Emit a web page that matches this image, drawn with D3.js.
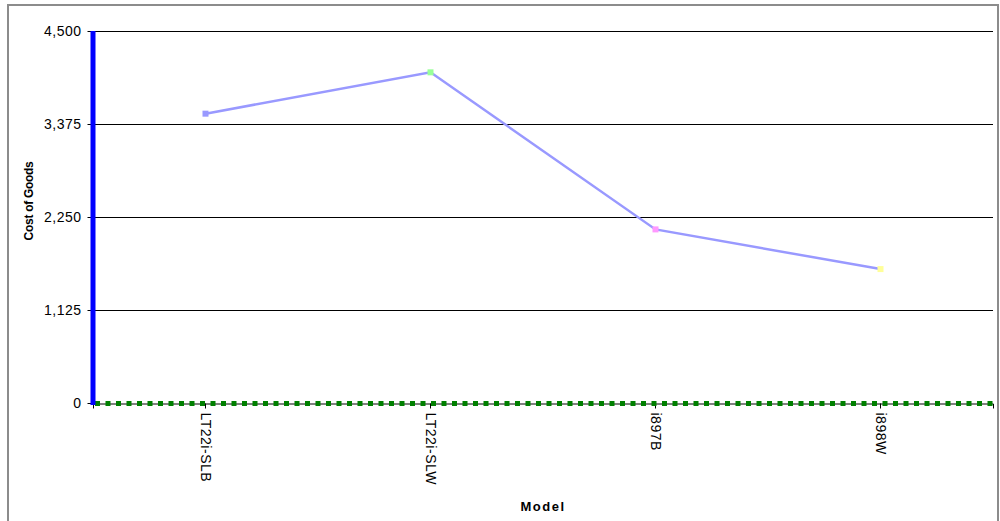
<!DOCTYPE html>
<html><head><meta charset="utf-8">
<script src="https://cdn.jsdelivr.net/npm/d3@7"></script>
<style>body{margin:0;background:#fff}svg{display:block}</style>
</head><body>
<script>
const categories = ["LT22i-SLB", "LT22i-SLW", "i897B", "i898W"];
const values = [3500, 4000, 2100, 1620];
const markerColors = ["#9999ff", "#99ff99", "#ff99ff", "#ffff99"];
const yTicks = [0, 1125, 2250, 3375, 4500];

const W = 1000, H = 521;
const FONT = "Liberation Sans, Arial, sans-serif";
const svg = d3.select("body").append("svg").attr("width", W).attr("height", H);

// outer frame
svg.append("rect").attr("x", 8).attr("y", 5).attr("width", 990).attr("height", 530)
  .attr("fill", "none").attr("stroke", "#8c8c8c").attr("stroke-width", 2);

const pLeft = 93, pRight = 993, pTop = 31, pBottom = 403;
const x = d3.scaleBand().domain(categories).range([pLeft, pRight]);
const y = d3.scaleLinear().domain([0, 4500]).range([pBottom, pTop]);

// gridlines
svg.append("g").selectAll("line").data(yTicks.filter(d => d > 0)).join("line")
  .attr("x1", pLeft).attr("x2", pRight)
  .attr("y1", d => Math.round(y(d)) + 0.5).attr("y2", d => Math.round(y(d)) + 0.5)
  .attr("stroke", "#000").attr("stroke-width", 1);

// y axis
const yAxis = d3.axisLeft(y).tickValues(yTicks).tickSize(5).tickPadding(6)
  .tickFormat(d3.format(","));
const gy = svg.append("g").attr("transform", `translate(${pLeft - 0.5},0)`).call(yAxis);
gy.select(".domain").remove();
gy.selectAll(".tick line").attr("stroke", "#000");
gy.selectAll(".tick text").attr("font-family", FONT)
  .attr("font-size", 14).attr("letter-spacing", 0.5).attr("fill", "#000");

// x axis
const xAxis = d3.axisBottom(x).tickSize(5).tickPadding(4);
const gx = svg.append("g").attr("transform", `translate(0,${pBottom + 0.5})`).call(xAxis);
gx.select(".domain").attr("stroke", "#000");
gx.selectAll(".tick line").attr("stroke", "#000");
gx.selectAll(".tick text")
  .attr("font-family", FONT).attr("font-size", 14).attr("letter-spacing", 0.5).attr("fill", "#000")
  .attr("transform", "rotate(90)")
  .attr("text-anchor", "start").attr("dy", "0.35em").attr("x", 9).attr("y", 0);

// green dotted x axis line
svg.append("line").attr("x1", pLeft + 2).attr("x2", pRight).attr("y1", pBottom + 0.5).attr("y2", pBottom + 0.5)
  .attr("stroke", "#008000").attr("stroke-width", 5).attr("stroke-dasharray", "5,5.5");

// blue y axis line
svg.append("line").attr("x1", pLeft).attr("x2", pLeft).attr("y1", pTop).attr("y2", pBottom + 2)
  .attr("stroke", "#0000ff").attr("stroke-width", 5);

// series line
const line = d3.line().x((d, i) => x(categories[i]) + x.bandwidth() / 2).y(d => y(d));
svg.append("path").datum(values).attr("d", line)
  .attr("fill", "none").attr("stroke", "#9999ff").attr("stroke-width", 2.5);

svg.append("g").selectAll("rect").data(values).join("rect")
  .attr("x", (d, i) => x(categories[i]) + x.bandwidth() / 2 - 3)
  .attr("y", d => y(d) - 3).attr("width", 6).attr("height", 6)
  .attr("fill", (d, i) => markerColors[i]);

// titles
svg.append("text").attr("x", 543).attr("y", 511).attr("text-anchor", "middle")
  .attr("font-family", FONT).attr("font-size", 13).attr("font-weight", "bold").attr("letter-spacing", 1.5)
  .text("Model");
svg.append("text").attr("transform", `translate(33,201) rotate(-90)`).attr("text-anchor", "middle")
  .attr("font-family", FONT).attr("font-size", 12).attr("font-weight", "bold").attr("letter-spacing", -0.3)
  .text("Cost of Goods");
</script>
</body></html>
